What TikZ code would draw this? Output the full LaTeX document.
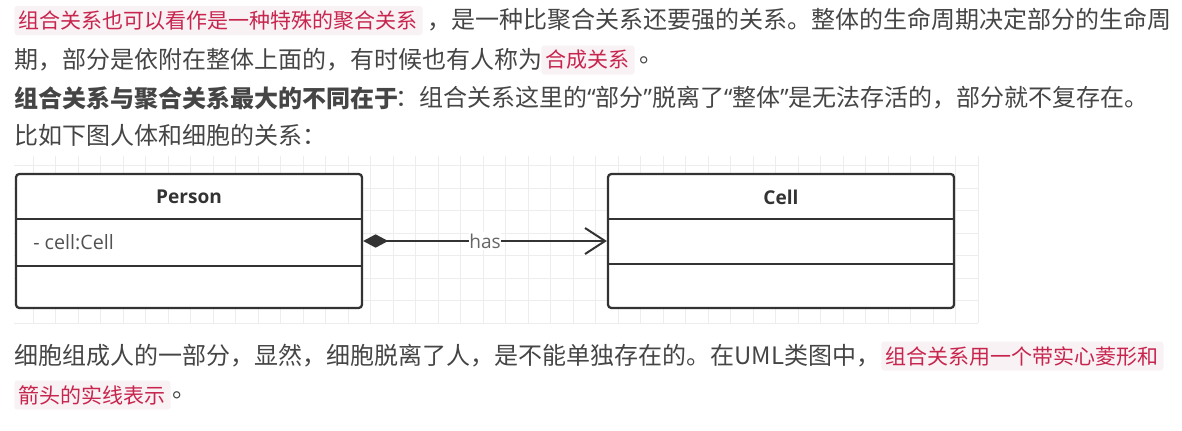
\documentclass[tikz,border=0pt]{standalone}
\usepackage{fontspec}
\setmainfont{Noto Sans CJK SC}
\newfontfamily\diagfont{Open Sans}
\newcommand\zqo{{\diagfont “}}
\newcommand\zqc{{\diagfont ”}}
\usetikzlibrary{arrows.meta}
\definecolor{txt}{HTML}{454545}
\definecolor{codefg}{HTML}{C7254E}
\definecolor{codebg}{HTML}{F9F2F4}
\definecolor{gridc}{HTML}{EDEDED}
\definecolor{linec}{HTML}{333333}
\definecolor{labelc}{HTML}{666666}
\tikzset{
  bodytext/.style={anchor=west, inner sep=0pt, text=txt, font=\fontsize{18pt}{22pt}\selectfont},
  codetext/.style={anchor=west, fill=codebg, rounded corners=2.25pt, text=codefg,
    inner xsep=3.5pt, inner ysep=0pt, minimum height=21.75pt, font=\fontsize{15.75pt}{18pt}\selectfont},
  gridline/.style={draw=gridc, line width=0.75pt},
  classbox/.style={draw=linec, fill=white, line width=1.7pt, rounded corners=2.5pt,
    minimum width=259.5pt, minimum height=100.5pt, inner sep=0pt},
  sepline/.style={draw=linec, line width=1.7pt},
  hdrtext/.style={inner sep=0pt, text=linec, font=\diagfont\bfseries\fontsize{14.3pt}{16pt}\selectfont},
  attrtext/.style={anchor=west, inner sep=0pt, text=linec!85, font=\diagfont\fontsize{14.8pt}{17pt}\selectfont},
  compline/.style={draw=linec, line width=1.5pt,
    {Diamond[length=18.75pt,width=10pt]}-{Straight Barb[length=15pt,width=19.5pt]}},
  haslabel/.style={fill=white, inner xsep=0.5pt, inner ysep=1pt, text=labelc,
    font=\diagfont\fontsize{14.3pt}{16pt}\selectfont}
}
\begin{document}
\begin{tikzpicture}[x=0.75pt,y=-0.75pt]
\useasboundingbox (0,0) rectangle (1182,430);
% top text
\node[codetext] (c1) at (14,20.5) {组合关系也可以看作是一种特殊的聚合关系};
\node[bodytext] (t1) at (427,20) {，是一种比聚合关系还要强的关系。整体的生命周期决定部分的生命周};
\node[bodytext] (t2) at (14,60) {期，部分是依附在整体上面的，有时候也有人称为};
\node[codetext] (c2) at (541,60) {合成关系};
\node[bodytext] (t2b) at (639,60) {。};
\node[bodytext, font=\fontsize{18pt}{22pt}\selectfont\bfseries] (t3) at (14,98) {组合关系与聚合关系最大的不同在于};
\node[bodytext] (t3b) at (395,98) {：组合关系这里的\zqo 部分\zqc 脱离了\zqo 整体\zqc 是无法存活的，部分就不复存在。};
\node[bodytext] (t4) at (14,135) {比如下图人体和细胞的关系：};
% grid
\foreach \i in {0,...,42} \draw[gridline] ({33+22.5*\i},156) -- ({33+22.5*\i},323);
\foreach \j in {0,...,7} \draw[gridline] (14,{165.5+22.5*\j}) -- (978,{165.5+22.5*\j});
% classes
\node[classbox] (person) at (189,241) {};
\draw[sepline] (person.west |- 0,219) -- (person.east |- 0,219);
\draw[sepline] (person.west |- 0,266) -- (person.east |- 0,266);
\node[hdrtext] (personname) at (189,197) {Person};
\node[attrtext] (personattr) at (33,242) {- cell:Cell};
\node[classbox] (cell) at (781,241) {};
\draw[sepline] (cell.west |- 0,219) -- (cell.east |- 0,219);
\draw[sepline] (cell.west |- 0,264) -- (cell.east |- 0,264);
\node[hdrtext] (cellname) at (781,197) {Cell};
\draw[compline] (person.east) -- node[haslabel] (has) {has} (cell.west);
% bottom text
\node[bodytext] (b1) at (14,356) {细胞组成人的一部分，显然，细胞脱离了人，是不能单独存在的。在UML类图中，};
\node[codetext] (c3) at (881,356) {组合关系用一个带实心菱形和};
\node[codetext] (c4) at (14,395) {箭头的实线表示};
\node[bodytext] (b2) at ([xshift=0.75pt]c4.east) {。};
\end{tikzpicture}
\end{document}
